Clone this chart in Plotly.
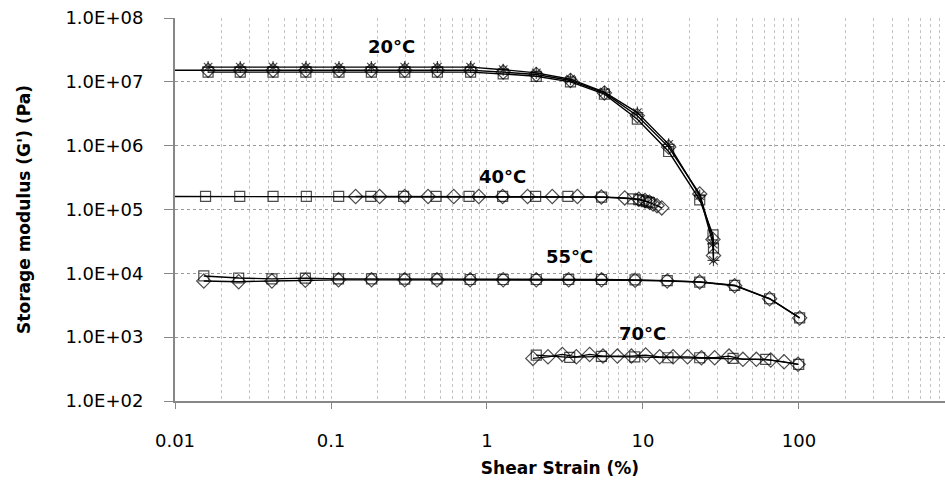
import math
import plotly.graph_objects as go

# ---- 20 °C ----
strain_20 = [0.0163, 0.0262, 0.0425, 0.069, 0.1125, 0.1815, 0.297, 0.481, 0.785,
             1.27, 2.07, 3.43, 5.66, 9.2, 14.6, 23.1, 28.1, 28.3]
g20_square = [1.42e7, 1.42e7, 1.42e7, 1.42e7, 1.42e7, 1.42e7, 1.42e7, 1.42e7, 1.42e7,
              1.33e7, 1.22e7, 1.0e7, 6.4e6, 2.6e6, 8.1e5, 1.42e5, 4.0e4, 2.5e4]
strain_20_d = [0.01] + strain_20
g20_diamond = [1.52e7, 1.52e7, 1.52e7, 1.52e7, 1.52e7, 1.52e7, 1.52e7, 1.52e7, 1.52e7, 1.52e7,
               1.42e7, 1.3e7, 1.05e7, 6.7e6, 2.95e6, 9.5e5, 1.75e5, 3.4e4, 1.9e4]
g20_star = [1.7e7, 1.7e7, 1.7e7, 1.7e7, 1.7e7, 1.7e7, 1.7e7, 1.7e7, 1.7e7,
            1.55e7, 1.38e7, 1.1e7, 6.9e6, 3.3e6, 1.05e6, 1.65e5, 2.9e4, 1.6e4]

# ---- 40 °C ----
strain_40_s = [0.01, 0.0157, 0.026, 0.0425, 0.0695, 0.112, 0.18, 0.292, 0.472, 0.767,
               1.26, 2.05, 3.3, 5.43, 8.6, 9.4, 10.0, 10.5, 11.0]
g40_square = [1.6e5, 1.6e5, 1.6e5, 1.6e5, 1.6e5, 1.6e5, 1.6e5, 1.6e5, 1.6e5, 1.6e5,
              1.6e5, 1.6e5, 1.6e5, 1.56e5, 1.47e5, 1.43e5, 1.38e5, 1.33e5, 1.28e5]
strain_40_d = [0.1438, 0.205, 0.297, 0.419, 0.612, 0.886, 1.26, 1.82, 2.62, 3.8, 5.41,
               7.64, 9.4, 10.3, 11.0, 11.6, 12.3, 13.2]
g40_diamond = [1.6e5, 1.6e5, 1.6e5, 1.6e5, 1.6e5, 1.6e5, 1.6e5, 1.6e5, 1.6e5, 1.6e5, 1.57e5,
               1.52e5, 1.45e5, 1.38e5, 1.3e5, 1.22e5, 1.15e5, 1.06e5]

# ---- 55 °C ----
strain_55 = [0.0153, 0.0256, 0.0418, 0.0685, 0.1117, 0.1819, 0.2968, 0.478, 0.78, 1.27,
             2.07, 3.34, 5.42, 8.9, 14.3, 23.1, 38.7, 64.8, 101]
g55_square = [9.1e3, 8.45e3, 8.2e3, 8.4e3, 8.2e3, 8.2e3, 8.1e3, 8.2e3, 8.0e3, 8.0e3,
              8.0e3, 8.0e3, 8.0e3, 7.9e3, 7.7e3, 7.3e3, 6.5e3, 4.0e3, 2.0e3]
g55_diamond = [7.6e3, 7.4e3, 7.6e3, 7.8e3, 7.9e3, 7.9e3, 7.9e3, 7.9e3, 7.9e3, 7.9e3,
               7.9e3, 7.9e3, 7.9e3, 7.8e3, 7.6e3, 7.3e3, 6.4e3, 4.0e3, 2.0e3]

# ---- 70 °C ----
strain_70_s = [2.07, 3.39, 5.41, 8.85, 14.45, 23.1, 37.8, 61.2, 99.6]
g70_square = [524, 482, 501, 492, 476, 476, 465, 449, 375]
strain_70_d = [1.97, 2.46, 3.04, 3.74, 4.55, 5.54, 6.85, 8.43, 10.4, 12.8, 15.6, 19.3,
               23.7, 28.8, 35.6, 43.7, 53.3, 65.9, 80.2, 98.6]
g70_diamond = [465, 492, 537, 492, 537, 505, 505, 505, 524, 492, 492, 492,
               476, 476, 505, 449, 449, 437, 411, 375]

# Temperature labels: (text, strain, modulus)
temp_labels = ["20°C", "40°C", "55°C", "70°C"]
temp_label_x = [0.246, 1.25, 3.36, 9.86]
temp_label_y = [3.6e7, 3.3e5, 1.85e4, 1.15e3]

y_tickvals = [1e2, 1e3, 1e4, 1e5, 1e6, 1e7, 1e8]
y_ticktext = ["1.0E+02", "1.0E+03", "1.0E+04", "1.0E+05", "1.0E+06", "1.0E+07", "1.0E+08"]
x_tickvals = [0.01, 0.1, 1, 10, 100]
x_ticktext = ["0.01", "0.1", "1", "10", "100"]

SIZES = {"square-open": 10, "diamond-open": 11, "asterisk-open": 10}


def series(x, y, symbol, hide_first=False):
    sizes = [SIZES[symbol]] * len(x)
    if hide_first:
        sizes[0] = 0
    return go.Scatter(
        x=x, y=y, mode="lines+markers",
        line=dict(color="black", width=1.4),
        marker=dict(symbol=symbol, size=sizes, color="black",
                    line=dict(color="black", width=1.2)),
        showlegend=False, cliponaxis=False,
    )


fig = go.Figure()
fig.add_trace(series(strain_20, g20_square, "square-open"))
fig.add_trace(series(strain_20_d, g20_diamond, "diamond-open", hide_first=True))
fig.add_trace(series(strain_20, g20_star, "asterisk-open"))
fig.add_trace(series(strain_40_s, g40_square, "square-open", hide_first=True))
fig.add_trace(series(strain_40_d, g40_diamond, "diamond-open"))
fig.add_trace(series(strain_55, g55_square, "square-open"))
fig.add_trace(series(strain_55, g55_diamond, "diamond-open"))
fig.add_trace(series(strain_70_s, g70_square, "square-open"))
fig.add_trace(series(strain_70_d, g70_diamond, "diamond-open"))

for t, lx, ly in zip(temp_labels, temp_label_x, temp_label_y):
    fig.add_annotation(x=math.log10(lx), y=math.log10(ly), text=t, showarrow=False,
                       font=dict(family="DejaVu Sans", size=18, color="black", weight="bold"),
                       xanchor="center", yanchor="middle")

axis_grey = "#878787"
fig.update_xaxes(
    type="log", range=[-2, 2.936],
    tickmode="array", tickvals=x_tickvals, ticktext=x_ticktext,
    showline=True, linecolor=axis_grey, linewidth=2,
    ticks="outside", ticklen=6, tickcolor=axis_grey, tickwidth=1,
    tickfont=dict(family="DejaVu Sans", size=18, color="black"),
    ticklabelstandoff=16,
    showgrid=True, gridcolor="#c4c4c4", griddash="dot", gridwidth=1,
    minor=dict(dtick="D1", showgrid=True, gridcolor="#c4c4c4", griddash="dot",
               gridwidth=1, ticks=""),
    zeroline=False,
    title=dict(text="Shear Strain (%)", standoff=13,
               font=dict(family="DejaVu Sans", size=17, color="black", weight="bold")),
)
fig.update_yaxes(
    type="log", range=[2, 8],
    tickmode="array", tickvals=y_tickvals, ticktext=y_ticktext,
    showline=True, linecolor=axis_grey, linewidth=2,
    ticks="outside", ticklen=9, tickcolor=axis_grey, tickwidth=1,
    tickfont=dict(family="DejaVu Sans", size=18, color="black"),
    ticklabelstandoff=17,
    showgrid=True, gridcolor="#9a9a9a", griddash="dot", gridwidth=1,
    zeroline=False,
    title=dict(text="Storage modulus (G') (Pa)", standoff=30,
               font=dict(family="DejaVu Sans", size=17, color="black", weight="bold")),
)
fig.update_layout(
    width=945, height=483, autosize=False,
    margin=dict(l=175, r=0, t=18, b=82),
    plot_bgcolor="white", paper_bgcolor="white",
)
fig.write_html("out.html")
